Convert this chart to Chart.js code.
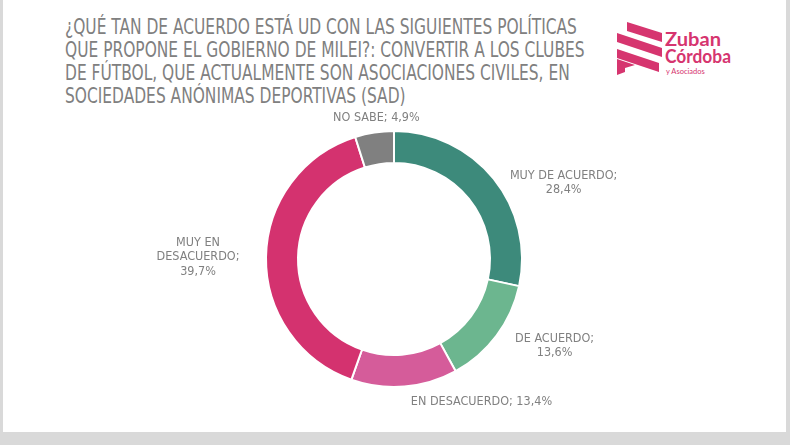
<!DOCTYPE html>
<html>
<head>
<meta charset="utf-8">
<script src="https://cdn.jsdelivr.net/npm/chart.js@4.4.1/dist/chart.umd.min.js"></script>
<style>
  html, body { margin: 0; padding: 0; }
  body { width: 790px; height: 445px; background: #d9d9d9; position: relative; overflow: hidden; }
  #card { position: absolute; left: 3px; top: 0; width: 783px; height: 432px; background: #fff; }
  #title {
    position: absolute; left: 62px; top: 16px; white-space: nowrap;
    font-family: "DejaVu Sans Condensed", "Liberation Sans Narrow", sans-serif;
    font-size: 21px; line-height: 23px; color: #808080;
    transform-origin: 0 0;
  }
  #logo { position: absolute; left: 612px; top: 18px; }
  #chartBox { position: absolute; left: 0; top: 0; width: 783px; height: 432px; }
</style>
</head>
<body>
<div id="card">
  <div id="title"></div>
  <svg id="logo" width="130" height="62" viewBox="0 0 130 62">
    <g fill="#d6356f">
      <polygon points="12,4 47,15 47,24 12,13"/>
      <polygon points="2,15 47,30 47,39 2,24"/>
      <polygon points="2,31 44,45 44,54 2,40"/>
      <polygon points="2,41 20,47 10,50 10,54 2,57"/>
      <text x="50" y="28" font-family="Lato, 'Open Sans', sans-serif" font-weight="bold" font-size="18" textLength="56" lengthAdjust="spacingAndGlyphs">Zuban</text>
      <text x="50" y="45" font-family="Lato, 'Open Sans', sans-serif" font-weight="bold" font-size="18" textLength="66" lengthAdjust="spacingAndGlyphs">Córdoba</text>
      <text x="51" y="56" font-family="Lato, 'Open Sans', sans-serif" font-size="7.5">y Asociados</text>
    </g>
  </svg>
  <div id="chartBox"><canvas id="chart"></canvas></div>
</div>
<script>
// title, one entry per line as in the original
const titleLines = [
  '¿QUÉ TAN DE ACUERDO ESTÁ UD CON LAS SIGUIENTES POLÍTICAS',
  'QUE PROPONE EL GOBIERNO DE MILEI?: CONVERTIR A LOS CLUBES',
  'DE FÚTBOL, QUE ACTUALMENTE SON ASOCIACIONES CIVILES, EN',
  'SOCIEDADES ANÓNIMAS DEPORTIVAS (SAD)'
];

// categories and values (clockwise from the top)
const categories = ['MUY DE ACUERDO', 'DE ACUERDO', 'EN DESACUERDO', 'MUY EN DESACUERDO', 'NO SABE'];
const values = [28.4, 13.6, 13.4, 39.7, 4.9];
const valueLabels = ['28,4%', '13,6%', '13,4%', '39,7%', '4,9%'];
const colors = ['#3d8a7b', '#6cb68f', '#d55c9a', '#d4326f', '#808080'];

// how each label is broken into lines
const labelLines = [
  ['MUY DE ACUERDO;', valueLabels[0]],
  ['DE ACUERDO;', valueLabels[1]],
  ['EN DESACUERDO; ' + valueLabels[2]],
  ['MUY EN', 'DESACUERDO;', valueLabels[3]],
  ['NO SABE; ' + valueLabels[4]]
];
// nudge of each label block from the outer edge of its slice
const labelNudge = [[70, 4], [58, 10], [77, 15], [-68, 0], [2, -15]];

// squeeze the title to the narrow width of the original typeface
const titleEl = document.getElementById('title');
titleEl.innerHTML = titleLines.join('<br>');
titleEl.style.transform = 'scaleX(' + (520 / titleEl.offsetWidth) + ')';

const outsideLabels = {
  id: 'outsideLabels',
  afterDatasetsDraw(chart) {
    const ctx = chart.ctx;
    const arcs = chart.getDatasetMeta(0).data;
    ctx.save();
    ctx.font = '12.5px "DejaVu Sans Condensed", "Liberation Sans Narrow", sans-serif';
    ctx.fillStyle = '#808080';
    ctx.textAlign = 'center';
    ctx.textBaseline = 'middle';
    const lh = 14.5;
    arcs.forEach((arc, i) => {
      const p = arc.getProps(['x', 'y', 'startAngle', 'endAngle', 'outerRadius'], true);
      const mid = (p.startAngle + p.endAngle) / 2;
      const ax = p.x + Math.cos(mid) * p.outerRadius + labelNudge[i][0];
      const ay = p.y + Math.sin(mid) * p.outerRadius + labelNudge[i][1];
      const lines = labelLines[i];
      const y0 = ay - (lines.length - 1) * lh / 2;
      lines.forEach((t, k) => ctx.fillText(t, ax, y0 + k * lh));
    });
    ctx.restore();
  }
};

new Chart(document.getElementById('chart'), {
  type: 'doughnut',
  data: {
    labels: categories,
    datasets: [{
      data: values,
      backgroundColor: colors,
      borderColor: '#ffffff',
      borderWidth: 2
    }]
  },
  options: {
    responsive: true,
    maintainAspectRatio: false,
    animation: false,
    cutout: '75%',
    layout: { padding: { left: 262, right: 263, top: 130, bottom: 44 } },
    plugins: {
      legend: { display: false },
      tooltip: { enabled: false }
    }
  },
  plugins: [outsideLabels]
});
</script>
</body>
</html>
